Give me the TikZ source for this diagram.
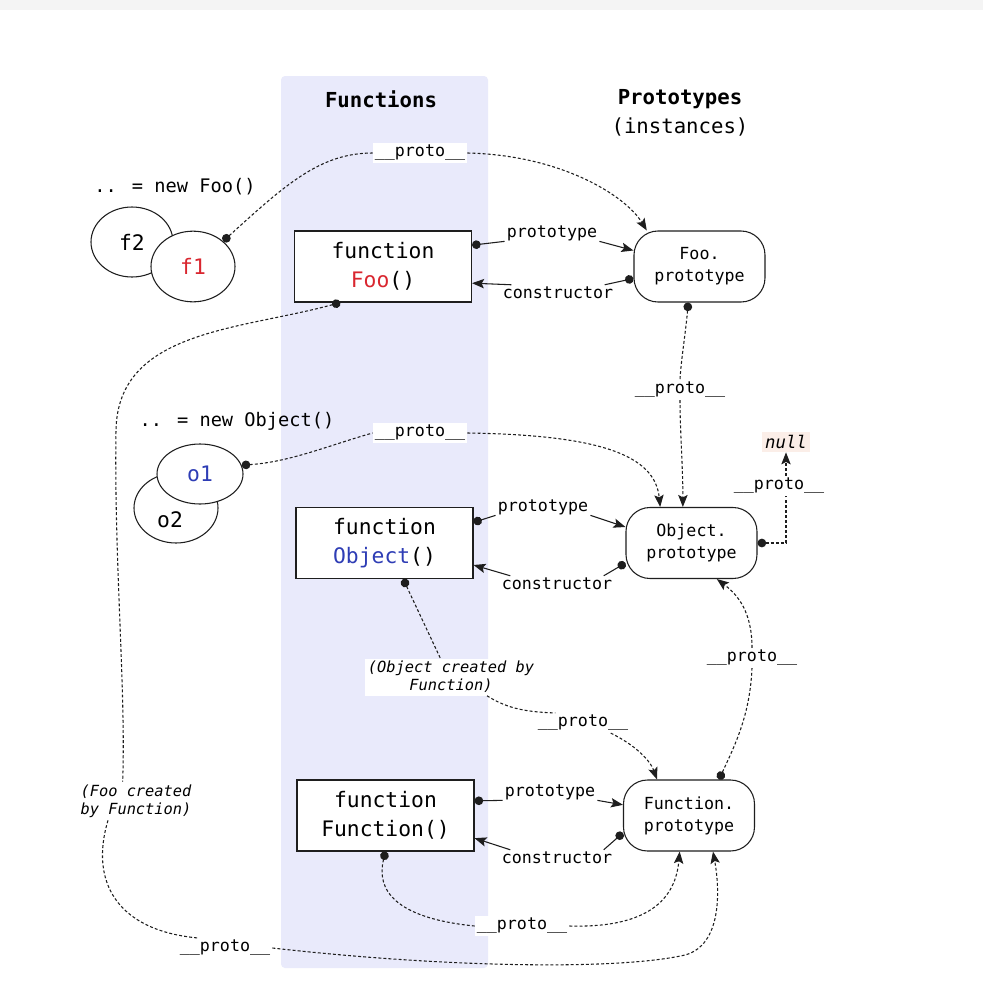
\documentclass[tikz,border=0pt]{standalone}
\usepackage{fontspec}
\setmainfont{DejaVu Sans Mono}
\usetikzlibrary{arrows.meta,shapes.geometric}
\definecolor{colbg}{HTML}{E9EAFB}
\definecolor{topgray}{HTML}{F4F4F4}
\definecolor{fred}{HTML}{D9262F}
\definecolor{oblue}{HTML}{2E3DB5}
\definecolor{nullbg}{HTML}{FBEEE8}
\definecolor{ink}{HTML}{1E1E1E}
\begin{document}
\begin{tikzpicture}[x=0.75pt,y=-0.75pt,
  lnk/.style={line width=0.8pt, draw=ink},
  dsh/.style={lnk, dash pattern=on 2.2pt off 1.6pt},
  dstart/.style={{Circle[length=6.5pt]}-},
  aend/.style={-{Stealth[length=9pt,width=7pt,inset=1.8pt]}},
  fnbox/.style={draw=ink, line width=0.8pt, fill=white, minimum width=132.75pt, minimum height=53.25pt, inner sep=0pt, align=center, font=\fontsize{16}{22}\selectfont},
  protobox/.style={draw=ink, line width=0.8pt, fill=white, rounded corners=18pt, minimum width=98.25pt, minimum height=53.25pt, inner sep=0pt, align=center, font=\fontsize{12.5}{16.5}\selectfont},
  inst/.style={ellipse, draw=ink, line width=0.8pt, fill=white, inner sep=0pt, font=\fontsize{16}{18}\selectfont},
  lbl/.style={fill=white, inner sep=1.5pt, font=\fontsize{12.5}{14}\selectfont},
  ilbl/.style={fill=white, inner sep=2pt, align=center, font=\fontsize{11.5}{13.5}\selectfont\itshape},
  head/.style={font=\fontsize{15.5}{20}\selectfont\bfseries},
]
\useasboundingbox (0,0) rectangle (983,996);
\fill[white] (0,0) rectangle (983,996);
\fill[topgray] (0,0) rectangle (983,10);
\fill[colbg, rounded corners=3pt] (281,76) rectangle (488,968);

% headings
\node[head] (hf) at (381,99) {Functions};
\node[head] (hp) at (680,99) {Prototypes};
\node[font=\fontsize{15.5}{20}\selectfont] (hi) at (680,127) {(instances)};
\node[font=\fontsize{14}{16}\selectfont] (nf) at (175,187) {.. = new Foo()};
\node[font=\fontsize{14}{16}\selectfont] (no) at (237,421) {.. = new Object()};

% instances
\node[inst, minimum width=61.5pt, minimum height=52.5pt] (f2) at (132,242) {f2};
\node[inst, minimum width=63pt, minimum height=53pt] (f1) at (193,266.5) {\textcolor{fred}{f1}};
\node[inst, minimum width=63pt, minimum height=52.5pt] (o2) at (176,508) {};
\node[font=\fontsize{16}{18}\selectfont] (o2t) at (170,520) {o2};
\node[inst, minimum width=64.5pt, minimum height=45pt] (o1) at (200,474) {\textcolor{oblue}{o1}};

% functions
\node[fnbox] (foo) at (383,266.5) {function\\\textcolor{fred}{Foo}()};
\node[fnbox] (obj) at (384.5,543) {function\\\textcolor{oblue}{Object}()};
\node[fnbox] (fun) at (385.5,815.5) {function\\Function()};

% prototypes
\node[protobox] (fp) at (699.5,266.5) {Foo.\\prototype};
\node[protobox] (op) at (691.5,543) {Object.\\prototype};
\node[protobox] (fnp) at (689,815.5) {Function.\\prototype};

% labels
\node[lbl] (p1) at (420,153) {\_\_proto\_\_};
\node[lbl] (lp1) at (552,233) {prototype};
\node[lbl] (lc1) at (558,293) {constructor};
\node[lbl] (p2) at (680,390) {\_\_proto\_\_};
\node[lbl] (p3) at (420,433) {\_\_proto\_\_};
\node[lbl] (lp2) at (543,507) {prototype};
\node[lbl] (lc2) at (557,584) {constructor};
\node[lbl] (p4) at (779,486) {\_\_proto\_\_};
\node[lbl, fill=nullbg, inner sep=2.5pt, font=\fontsize{13}{15}\selectfont\itshape] (nul) at (786,442) {null};
\node[ilbl] (lo) at (451,677) {(Object created by\\Function)};
\node[lbl] (p5) at (583,723) {\_\_proto\_\_};
\node[lbl] (p6) at (752,658) {\_\_proto\_\_};
\node[lbl] (lp3) at (550,792) {prototype};
\node[lbl] (lc3) at (557,858) {constructor};
\node[lbl] (p7) at (522,926) {\_\_proto\_\_};
\node[ilbl] (lf) at (136,801) {(Foo created\\by Function)};
\node[lbl] (p8) at (225,948) {\_\_proto\_\_};

% f1 -> Foo.prototype
\draw[dsh,dstart] (f1.40) .. controls (285,185) and (320,153) .. (p1.west);
\draw[dsh,aend] (p1.east) .. controls (560,155) and (625,195) .. ([xshift=10pt]fp.north west);

% Foo prototype / constructor
\draw[lnk,dstart] ([yshift=16pt]foo.east) -- (lp1.190);
\draw[lnk,aend] (lp1.-10) -- ([yshift=12pt]fp.west);
\draw[lnk,dstart] ([yshift=-9pt]fp.west) -- (lc1.10);
\draw[lnk,aend] (lc1.170) -- ([yshift=-12.5pt]foo.east);

% Foo.prototype -> Object.prototype
\draw[dsh,dstart] ([xshift=-8.5pt]fp.south) .. controls (686,330) and (681,360) .. (p2.north);
\draw[dsh,aend] (p2.south) .. controls (680,430) and (683,470) .. ([xshift=-6.5pt]op.north);

% o1 -> Object.prototype
\draw[dsh,dstart] (o1.12) .. controls (290,462) and (330,445) .. (p3.west);
\draw[dsh,aend] (p3.east) .. controls (600,435) and (655,455) .. ([xshift=-23.5pt]op.north);

% Object prototype / constructor
\draw[lnk,dstart] ([yshift=15.5pt]obj.east) -- (lp2.190);
\draw[lnk,aend] (lp2.-10) -- ([yshift=12pt]op.west);
\draw[lnk,dstart] ([yshift=-15pt]op.west) -- (lc2.10);
\draw[lnk,aend] (lc2.170) -- ([yshift=-16.5pt]obj.east);

% Object.prototype -> null
\draw[dsh,dstart] (op.east) -| (p4.south -| nul.south);
\draw[dsh,aend] (p4.north -| nul.south) -- (nul.south);

% Object -> Function.prototype
\draw[dsh,dstart] ([xshift=14pt]obj.south) -- ([xshift=-8pt]lo.north);
\draw[dsh] ([xshift=27pt]lo.south) .. controls (505,707) and (522,712) .. (p5.160);
\draw[dsh,aend] (p5.-20) .. controls (635,745) and (650,760) .. ([xshift=-24pt]fnp.north);

% Function.prototype -> Object.prototype
\draw[dsh,dstart] ([xshift=22.5pt]fnp.north) .. controls (735,745) and (750,715) .. (p6.south);
\draw[dsh,aend] (p6.north) .. controls (752,612) and (738,595) .. ([xshift=19pt]op.south);

% Function prototype / constructor
\draw[lnk,dstart] ([yshift=11pt]fun.east) -- (lp3.190);
\draw[lnk,aend] (lp3.-10) -- ([yshift=8pt]fnp.west);
\draw[lnk,dstart] ([yshift=-13pt]fnp.west) -- (lc3.10);
\draw[lnk,aend] (lc3.170) -- ([yshift=-17pt]fun.east);

% Function -> Function.prototype
\draw[dsh,dstart] (fun.south) .. controls (376,890) and (395,918) .. (p7.west);
\draw[dsh,aend] (p7.east) .. controls (640,928) and (675,905) .. ([xshift=-7pt]fnp.south);

% Foo -> Function.prototype
\draw[dsh,dstart] ([xshift=-32pt]foo.south) .. controls (240,330) and (118,330) .. (116,430) .. controls (114,560) and (126,690) .. ([xshift=-10pt]lf.north);
\draw[dsh] ([xshift=-21pt]lf.south) .. controls (90,880) and (115,930) .. (p8.160);
\draw[dsh,aend] (p8.east) .. controls (450,968) and (620,970) .. (685,955) .. controls (722,945) and (720,890) .. ([xshift=18pt]fnp.south);
\end{tikzpicture}
\end{document}
